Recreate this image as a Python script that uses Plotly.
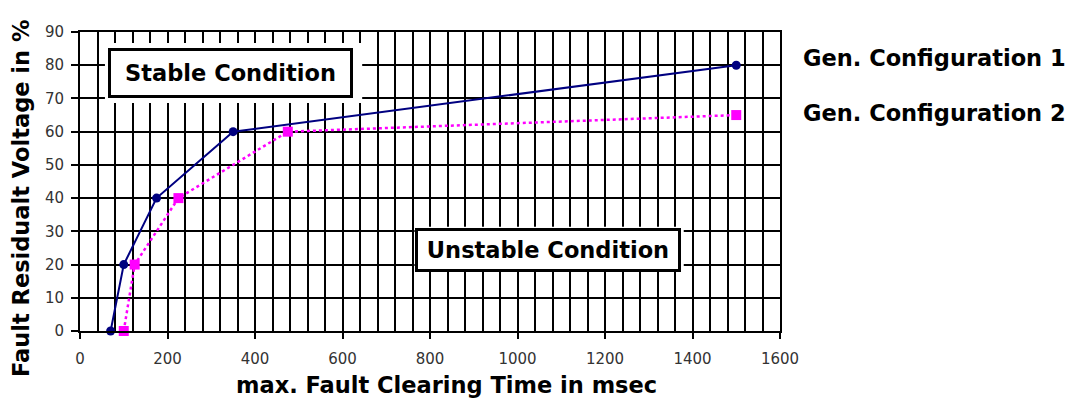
import plotly.graph_objects as go

# Data
cfg1_time = [70, 100, 175, 350, 1500]
cfg1_volt = [0, 20, 40, 60, 80]
cfg2_time = [100, 125, 225, 475, 1500]
cfg2_volt = [0, 20, 40, 60, 65]
series_names = ["Gen. Configuration 1", "Gen. Configuration 2"]
x_ticks = [0, 200, 400, 600, 800, 1000, 1200, 1400, 1600]
y_ticks = [0, 10, 20, 30, 40, 50, 60, 70, 80, 90]

FONT = "DejaVu Sans, Verdana, sans-serif"
BIG = 22.5
OFF = 8  # page body margin in the browser

fig = go.Figure()
fig.add_trace(go.Scatter(
    x=cfg1_time, y=cfg1_volt, mode="lines+markers", name=series_names[0],
    line=dict(color="#000080", width=2),
    marker=dict(symbol="circle", size=9, color="#000080"),
    cliponaxis=False, showlegend=False))
fig.add_trace(go.Scatter(
    x=cfg2_time, y=cfg2_volt, mode="lines+markers", name=series_names[1],
    line=dict(color="#FF00FF", width=2.5, dash="dot"),
    marker=dict(symbol="square", size=10, color="#FF00FF"),
    cliponaxis=False, showlegend=False))

# white cut-outs behind the condition boxes
fig.add_shape(type="rect", xref="x", yref="y", x0=57, x1=645, y0=68.6, y1=86.7,
              fillcolor="white", line=dict(width=0), layer="above")
fig.add_shape(type="rect", xref="x", yref="y", x0=765, x1=1380, y0=18.2, y1=31.4,
              fillcolor="white", line=dict(width=0), layer="above")

fig.add_annotation(x=344, y=77.7, xref="x", yref="y", text="<b>Stable Condition</b>",
                   showarrow=False, font=dict(family=FONT, size=BIG, color="black"),
                   bgcolor="white", bordercolor="black", borderwidth=3,
                   borderpad=8, width=223, height=28)
fig.add_annotation(x=1070, y=24.5, xref="x", yref="y", text="<b>Unstable Condition</b>",
                   showarrow=False, font=dict(family=FONT, size=BIG, color="black"),
                   bgcolor="white", bordercolor="black", borderwidth=3,
                   borderpad=5, width=250, height=28)

# series labels on the right (window pixel coords)
fig.add_annotation(x=1068, y=58, xref="paper", yref="paper", text="<b>" + series_names[0] + "</b>",
                   showarrow=False, xanchor="right", yanchor="middle",
                   font=dict(family=FONT, size=BIG, color="black"))
fig.add_annotation(x=1068, y=113, xref="paper", yref="paper", text="<b>" + series_names[1] + "</b>",
                   showarrow=False, xanchor="right", yanchor="middle",
                   font=dict(family=FONT, size=BIG, color="black"))

# axis titles
fig.add_annotation(x=446, y=385, xref="paper", yref="paper",
                   text="<b>max. Fault Clearing Time in msec</b>", showarrow=False,
                   xanchor="center", yanchor="middle",
                   font=dict(family=FONT, size=BIG, color="black"))
fig.add_annotation(x=21, y=199, xref="paper", yref="paper",
                   text="<b>Fault Residualt Voltage in %</b>", showarrow=False,
                   textangle=-90, xanchor="center", yanchor="middle",
                   font=dict(family=FONT, size=BIG, color="black"))

W, H = 1074 - OFF, 405 - OFF
L, T = 80 - OFF, 32 - OFF
R = W - L - 700
B = H - T - 299
# convert window-pixel annotations to paper coords
for a in fig.layout.annotations:
    if a.xref == "paper":
        a.x = (a.x - OFF - L) / (W - L - R)
        a.y = 1 - (a.y - OFF - T) / (H - T - B)

fig.update_layout(
    width=W, height=H, margin=dict(l=L, r=R, t=T, b=B),
    plot_bgcolor="white", paper_bgcolor="white",
    font=dict(family=FONT, size=15, color="#333"),
    xaxis=dict(range=[0, 1600], tickvals=x_ticks, showgrid=True, gridcolor="black",
               gridwidth=2, showline=True, linecolor="black", linewidth=2, mirror=True,
               ticks="outside", ticklen=6, tickwidth=2, tickcolor="black",
               ticklabelstandoff=7,
               minor=dict(dtick=40, showgrid=True, gridcolor="black", gridwidth=2),
               zeroline=False, tickfont=dict(size=15, color="#333")),
    yaxis=dict(range=[0, 90], tickvals=y_ticks, showgrid=True, gridcolor="black",
               gridwidth=2, showline=True, linecolor="black", linewidth=2, mirror=True,
               ticks="outside", ticklen=7, tickwidth=2, tickcolor="black",
               ticklabelstandoff=4,
               zeroline=False, tickfont=dict(size=15, color="#333")),
)

fig.write_html("out.html")
